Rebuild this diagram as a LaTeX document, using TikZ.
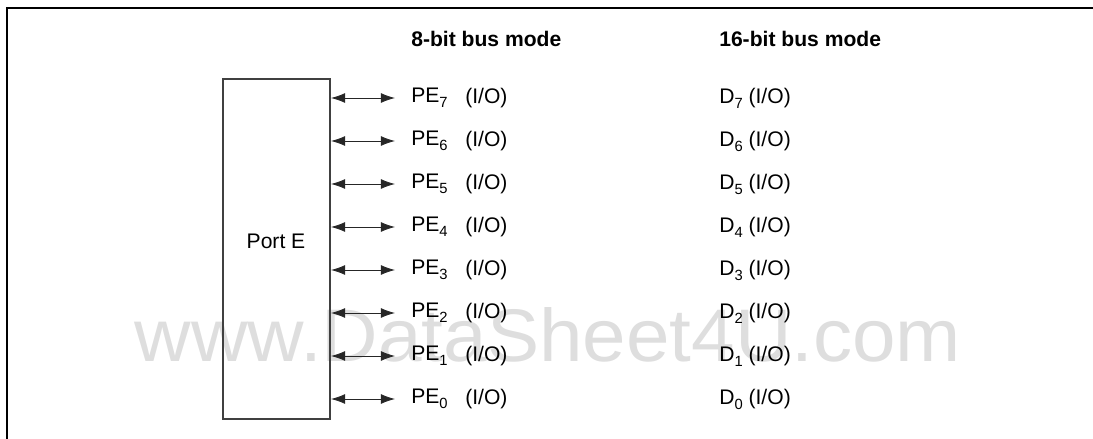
\documentclass[tikz,border=0pt]{standalone}
\usepackage{fontspec}
\setmainfont{Liberation Sans}
\usetikzlibrary{arrows.meta}
\newcommand{\pinsub}[1]{\raisebox{-0.45ex}{\fontsize{10.5}{10.5}\selectfont #1}}
\begin{document}
\begin{tikzpicture}[x=0.025cm, y=-0.025cm,
	every node/.style = {font=\fontsize{15}{18}\selectfont, inner sep=0pt},
	portbox/.style = {draw=black!75, line width=1.4pt, minimum width=107*0.025cm, minimum height=340*0.025cm},
	pinarrow/.style = {{Latex[length=10pt,width=7pt]}-{Latex[length=10pt,width=7pt]}, line width=0.6pt, black!85},
	header/.style = {anchor=west, font=\fontsize{15}{18}\selectfont\bfseries}]
	\useasboundingbox (0,0) rectangle (1093,439);
	% watermark
	\node (mark) at (548,335) [text=black!13, font=\fontsize{53}{60}\selectfont, xscale=1.05] {www.DataSheet4U.com};
	% frame
	\draw [line width=1.3pt] (7,439) -- (7,8) -- (1093,8);
	% headers
	\node [header] (h8) at (411,38.5) {8-bit bus mode};
	\node [header] (h16) at (719,38.5) {16-bit bus mode};
	% port block
	\node [portbox] (port) at (276.5,249) {};
	\node (portname) at (276,241) {Port E};
	\foreach \i in {0,...,7} {
		\coordinate (pin\i) at (395,{399-43*\i});
		\draw [pinarrow] (port.east |- pin\i) -- (pin\i);
		\node [anchor=west] (pe\i) at (411,{399-43*\i}) {PE\pinsub{\i}};
		\node [anchor=west] (io\i) at (465,{399-43*\i}) {(I/O)};
		\node [anchor=west] (d\i) at (719,{399-43*\i}) {D\pinsub{\i} (I/O)};
	}
\end{tikzpicture}
\end{document}
